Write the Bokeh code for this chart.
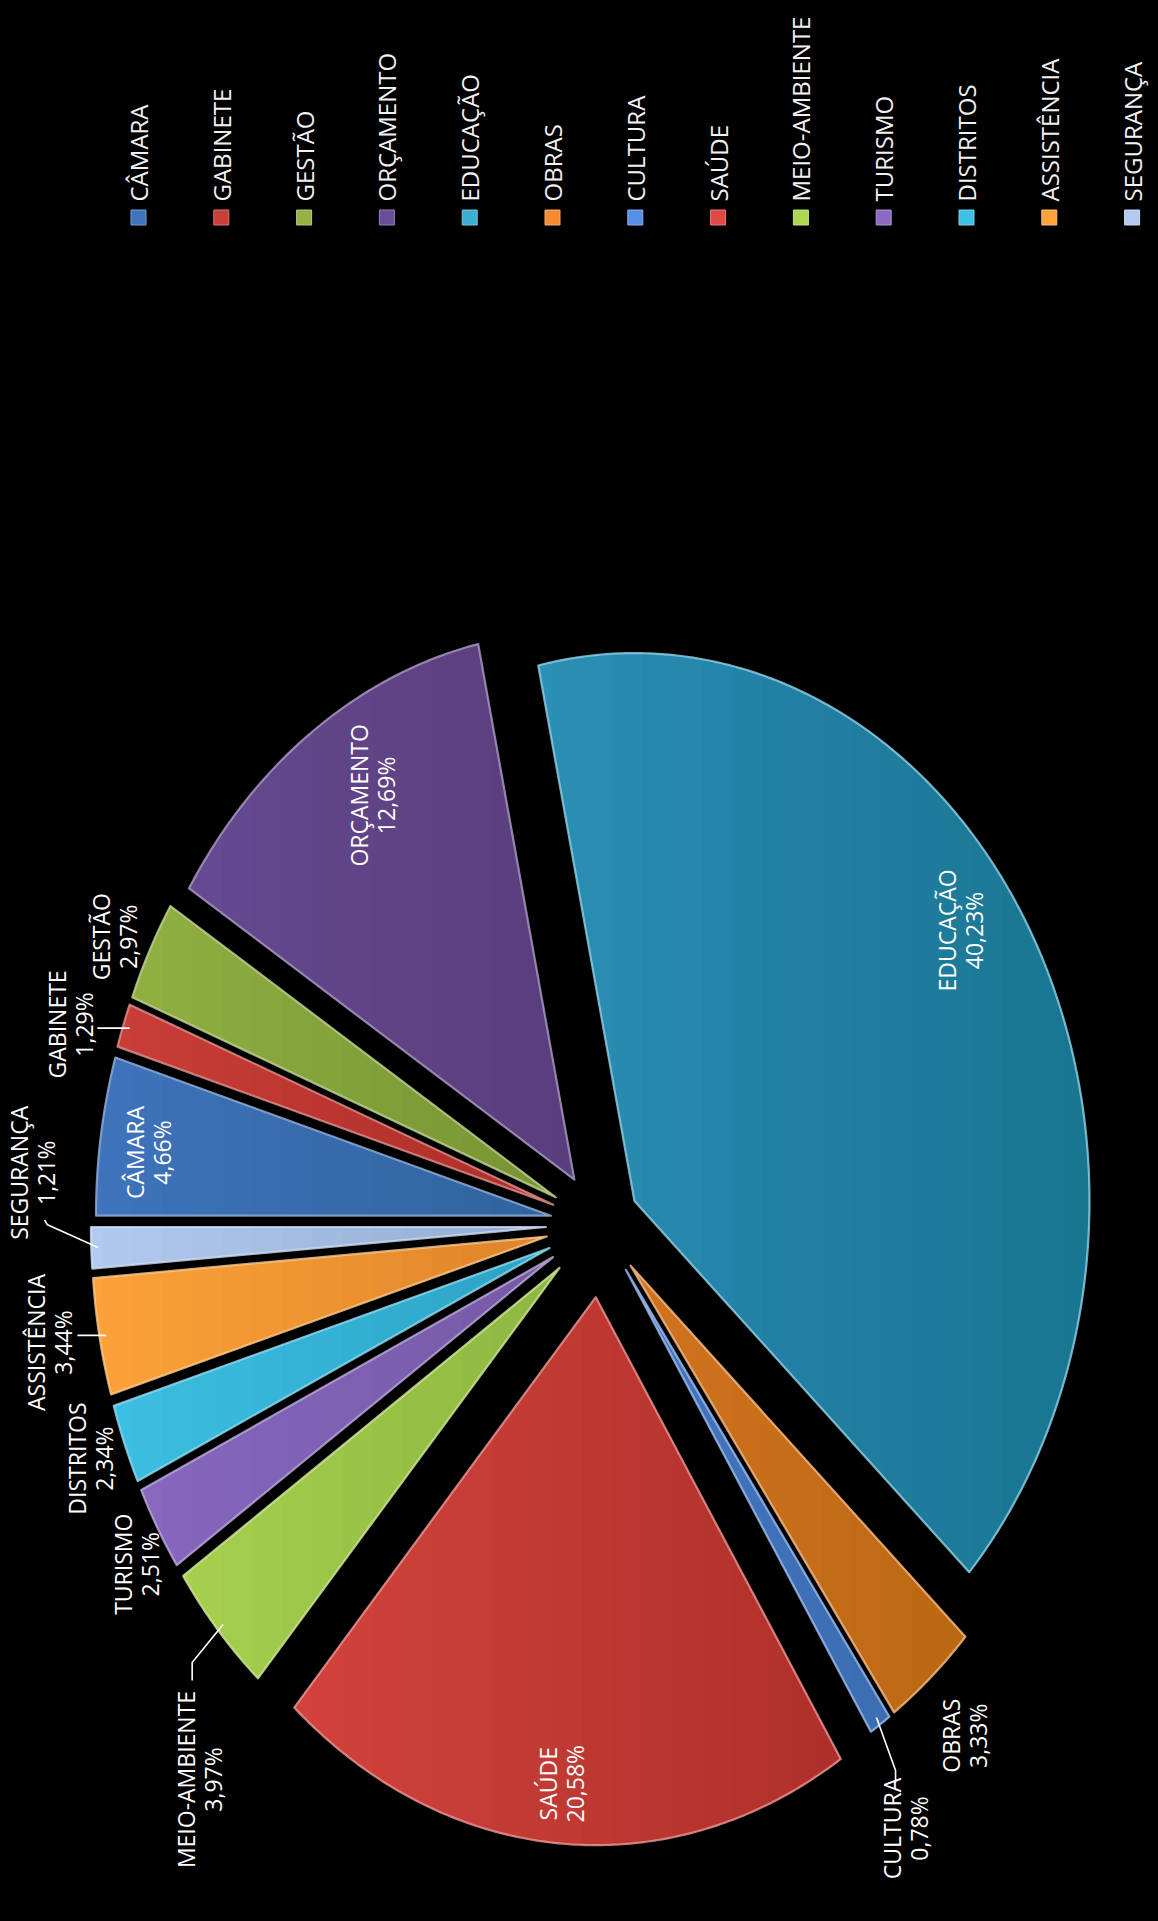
import numpy as np
from bokeh.plotting import figure
from bokeh.models import Range1d
from bokeh.embed import file_html
from bokeh.resources import INLINE
from bokeh.core.properties import value

# ---------------- data ----------------
categories = ["CÂMARA", "GABINETE", "GESTÃO", "ORÇAMENTO", "EDUCAÇÃO", "OBRAS",
              "CULTURA", "SAÚDE", "MEIO-AMBIENTE", "TURISMO", "DISTRITOS",
              "ASSISTÊNCIA", "SEGURANÇA"]
shares = [4.66, 1.29, 2.97, 12.69, 40.23, 3.33, 0.78, 20.58, 3.97, 2.51, 2.34, 3.44, 1.21]

# ---------------- style ----------------
colors = ["#3f73bc", "#cb3e38", "#93b343", "#694d99", "#3aaed3", "#f58a30",
          "#5590e6", "#e04943", "#acd650", "#8c69c3", "#3cc1e4", "#fda339", "#b2caf0"]
explode = [0.11, 0.11, 0.11, 0.10, 0.086, 0.10, 0.10, 0.133, 0.12, 0.12, 0.12, 0.12, 0.12]
# label placement: radius factor and angular nudge (deg) relative to the slice bisector
label_t = [1.002, 1.221, 1.191, 0.930, 0.956, 1.229, 1.290, 1.024, 1.343, 1.194, 1.200, 1.229, 1.252]
label_dphi = [0.85, 1.7, 0.6, -2.4, 4.35, -0.76, -2.67, -0.34, 7.6, 1.6, -0.1, -0.46, -6.5]
# leader lines: offsets from the label centre (first point = slice rim)
leaders = {1: [("h", 27)],
           11: [("h", 27.5)],
           12: [(15, -52), (12, -47)],
           8: [(-7, 117), (-7, 99)],
           6: [(-10, 58), (-10, 46)]}

W, H = 1150, 1905
CX, CY = 608, -1232          # pie centre (page px, y up)
RX, RY = 455, 548            # ellipse radii (3D tilt, rotated chart)
START = 180.0                # first slice starts at 9 o'clock, clockwise
FONT = value("Open Sans")
LSP = 13.5                   # half distance between the two label lines


def lighten(hexc, f):
    h = hexc.lstrip("#")
    r, g, b = (int(h[i:i + 2], 16) for i in (0, 2, 4))
    r, g, b = (int(c + (255 - c) * f) for c in (r, g, b))
    return "#%02x%02x%02x" % (r, g, b)


def clip_right(poly, x0):
    out = []
    n = len(poly)
    for i in range(n):
        P, Q = poly[i], poly[(i + 1) % n]
        pin, qin = P[0] >= x0, Q[0] >= x0
        if pin:
            out.append(P)
        if pin != qin:
            t = (x0 - P[0]) / (Q[0] - P[0])
            out.append((x0, P[1] + t * (Q[1] - P[1])))
    return out


p = figure(width=W, height=H, output_backend="svg", toolbar_location=None,
           x_range=Range1d(8, 8 + W), y_range=Range1d(-8 - H, -8),
           background_fill_color="black", border_fill_color="black",
           outline_line_color=None, min_border=0)
p.axis.visible = False
p.grid.visible = False

total = float(sum(shares))
cum = np.concatenate([[0.0], np.cumsum(shares)]) / total
polys, apexes, mids = [], [], []
for i, v in enumerate(shares):
    a0 = START - 360.0 * cum[i]
    a1 = START - 360.0 * cum[i + 1]
    m = np.radians((a0 + a1) / 2)
    ax = CX + explode[i] * RX * np.cos(m)
    ay = CY + explode[i] * RY * np.sin(m)
    n = max(8, int(abs(a1 - a0) * 2))
    ang = np.radians(np.linspace(a0, a1, n))
    pts = [(ax, ay)] + [(ax + RX * np.cos(t), ay + RY * np.sin(t)) for t in ang]
    polys.append(pts)
    apexes.append((ax, ay))
    mids.append((a0 + a1) / 2)

# base fills
p.patches([[q[0] for q in pts] for pts in polys], [[q[1] for q in pts] for pts in polys],
          fill_color=colors, line_color=None)

# horizontal shading (darker towards the right)
xs_all, ys_all = [], []
for pts in polys:
    for x0 in np.linspace(110, 1100, 34):
        c = clip_right(pts, x0)
        if len(c) >= 3:
            xs_all.append([q[0] for q in c])
            ys_all.append([q[1] for q in c])
p.patches(xs_all, ys_all, fill_color="black", fill_alpha=0.0068, line_color=None)

# bevel rim
p.patches([[q[0] for q in pts] for pts in polys], [[q[1] for q in pts] for pts in polys],
          fill_color=None, line_color=[lighten(c, 0.45) for c in colors],
          line_width=2.2, line_alpha=0.8, line_join="round")

# data labels (placed around the un-exploded pie centre)
lab_pos = []
for i, v in enumerate(shares):
    phi = np.radians(mids[i] + label_dphi[i])
    lx = CX + label_t[i] * RX * np.cos(phi)
    ly = CY + label_t[i] * RY * np.sin(phi)
    lab_pos.append((lx, ly))
    pct = ("%.2f" % v).replace(".", ",") + "%"
    p.text([lx - LSP, lx + LSP], [ly, ly], text=[categories[i], pct], angle=np.pi / 2,
           text_align="center", text_baseline="middle", text_color="white",
           text_font=FONT, text_font_size="23px")

# leader lines
for i, offs in leaders.items():
    ax, ay = apexes[i]
    m = np.radians(mids[i])
    rx0 = ax + 0.985 * RX * np.cos(m)
    ry0 = ay + 0.985 * RY * np.sin(m)
    lx, ly = lab_pos[i]
    xs, ys = [rx0], [ry0]
    for o in offs:
        if o[0] == "h":
            xs.append(lx + o[1]); ys.append(ry0)
        else:
            xs.append(lx + o[0]); ys.append(ly + o[1])
    p.line(xs, ys, line_color="white", line_width=1.6)

# legend (rotated, along the top)
LX0, LDX, LY = 146, 82.8, -225
lx = [LX0 + k * LDX for k in range(len(categories))]
p.scatter(lx, [LY] * len(categories), marker="square", size=15,
          fill_color=colors, line_color=[lighten(c, 0.3) for c in colors], line_width=1)
p.text(lx, [LY + 16] * len(categories), text=categories, angle=np.pi / 2,
       text_align="left", text_baseline="middle", text_color="#f2f2f2",
       text_font=FONT, text_font_size="24px")

html = file_html(p, INLINE)
html = html.replace("</head>", "<style>html,body{background:#000;}</style></head>", 1)
open("out.html", "w").write(html)
